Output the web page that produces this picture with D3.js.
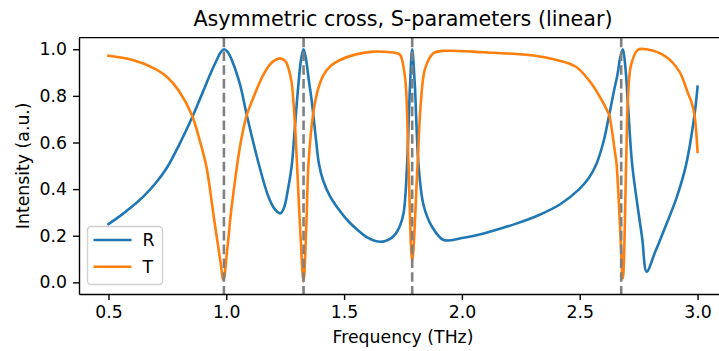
<!DOCTYPE html>
<html>
<head>
<meta charset='utf-8' />
<title>Asymmetric cross</title>
<style>
  body{ margin:0; background:#fff; }
  svg{ display:block; }
  text{ font-family: 'DejaVu Sans', sans-serif; fill:#000; }
</style>
</head>
<body>
<script src="https://cdn.jsdelivr.net/npm/d3@7/dist/d3.min.js"></script>
<script>

// values
let freqR = [0.50,0.55,0.60,0.65,0.70,0.75,0.80,0.854,0.90,0.935,0.96,0.975,0.99,1.005,1.025,1.058,1.087,1.137,1.179,1.205,1.229,1.245,1.262,1.278,1.29,1.306,1.318,1.328,1.338,1.35,1.363,1.38,1.393,1.41,1.44,1.483,1.52,1.554,1.60,1.653,1.70,1.72,1.738,1.753,1.767,1.78,1.789,1.80,1.816,1.837,1.873,1.922,2.0,2.092,2.234,2.33,2.417,2.498,2.54,2.569,2.60,2.625,2.645,2.660,2.672,2.683,2.694,2.704,2.722,2.745,2.765,2.784,2.82,2.866,2.91,2.951,2.987,3.0]
let valR  = [0.25,0.285,0.325,0.37,0.425,0.495,0.59,0.705,0.815,0.90,0.955,0.985,1.0,0.99,0.95,0.85,0.718,0.511,0.367,0.315,0.296,0.32,0.40,0.503,0.65,0.847,0.96,1.0,0.96,0.87,0.775,0.62,0.51,0.44,0.37,0.305,0.26,0.228,0.192,0.174,0.19,0.21,0.245,0.30,0.50,0.85,1.0,0.85,0.503,0.332,0.239,0.182,0.19,0.21,0.253,0.29,0.335,0.40,0.45,0.503,0.60,0.718,0.82,0.89,0.965,1.0,0.92,0.775,0.511,0.33,0.19,0.046,0.13,0.245,0.36,0.503,0.718,0.839]

let freqT = [0.50,0.60,0.70,0.75,0.80,0.854,0.889,0.915,0.95,0.975,0.988,1.005,1.02,1.035,1.05,1.065,1.087,1.11,1.13,1.16,1.186,1.21,1.229,1.25,1.264,1.277,1.285,1.293,1.300,1.315,1.328,1.34,1.349,1.370,1.39,1.413,1.445,1.483,1.55,1.625,1.70,1.724,1.738,1.759,1.773,1.789,1.812,1.826,1.844,1.879,1.922,2.092,2.304,2.403,2.484,2.554,2.597,2.615,2.625,2.637,2.648,2.656,2.67,2.683,2.697,2.704,2.718,2.746,2.782,2.866,2.923,2.957,2.975,2.987,3.0]
let valT  = [0.972,0.955,0.915,0.88,0.82,0.718,0.603,0.50,0.26,0.09,0.01,0.15,0.30,0.42,0.53,0.62,0.718,0.78,0.83,0.895,0.935,0.955,0.961,0.95,0.918,0.86,0.775,0.65,0.511,0.2,0.003,0.25,0.511,0.732,0.83,0.89,0.93,0.954,0.978,0.99,0.987,0.983,0.976,0.876,0.511,0.09,0.511,0.775,0.918,0.983,0.993,0.987,0.973,0.954,0.925,0.847,0.775,0.74,0.718,0.65,0.57,0.511,0.26,0.017,0.511,0.775,0.933,0.997,1.0,0.968,0.904,0.818,0.77,0.718,0.56]

let resonances = [0.99, 1.328, 1.789, 2.676]
let xTicks = [0.5, 1.0, 1.5, 2.0, 2.5, 3.0]
let yTicks = [0.0, 0.2, 0.4, 0.6, 0.8, 1.0]
let seriesNames = ['R', 'T']
let seriesColors = ['#1f77b4', '#ff7f0e']

let width = 719, height = 351,
  axLeft = 79, axRight = 727, axTop = 37.6, axBottom = 294

let svg = d3.select('body').append('svg').attr('width', width).attr('height', height)

let x = d3.scaleLinear().domain([0.375, 3.125]).range([axLeft, axRight]),
  y = d3.scaleLinear().domain([-0.05, 1.05]).range([axBottom, axTop])

let line = d3.line()
  .x(d => x(d[0]))
  .y(d => y(d[1]))
  .curve(d3.curveCatmullRom.alpha(0.5))

let series = [
  d3.zip(freqR, valR),
  d3.zip(freqT, valT)
]

let plot = svg.append('g')
series.forEach((s, i) => {
  plot.append('path')
    .datum(s)
    .attr('d', line)
    .style('fill', 'none')
    .style('stroke', seriesColors[i])
    .style('stroke-width', 2.6)
    .style('stroke-linejoin', 'round')
    .style('stroke-linecap', 'square')
})

// dashed resonance markers
plot.selectAll('line.res').data(resonances).enter().append('line')
  .attr('class', 'res')
  .attr('x1', d => x(d)).attr('x2', d => x(d))
  .attr('y1', axTop).attr('y2', axBottom)
  .style('stroke', '#808080')
  .style('stroke-width', 2.6)
  .style('stroke-dasharray', '9.6,4.2')

// axes
let xAxis = svg.append('g')
  .attr('transform', 'translate(0,' + axBottom + ')')
  .call(d3.axisBottom(x).tickValues(xTicks).tickFormat(d3.format('.1f')).tickSize(6).tickPadding(6).tickSizeOuter(0))

let yAxis = svg.append('g')
  .attr('transform', 'translate(' + axLeft + ',0)')
  .call(d3.axisLeft(y).tickValues(yTicks).tickFormat(d3.format('.1f')).tickSize(6).tickPadding(6).tickSizeOuter(0))

svg.selectAll('.domain').style('stroke', '#000').style('stroke-width', 1.4)
svg.selectAll('.tick line').style('stroke', '#000').style('stroke-width', 1.4)
svg.selectAll('.tick text').style('font-size', '17.3px').style('fill', '#000').style('font-family', "'DejaVu Sans', sans-serif")

// top spine
svg.append('line')
  .attr('x1', axLeft).attr('x2', axRight)
  .attr('y1', axTop).attr('y2', axTop)
  .style('stroke', '#000').style('stroke-width', 1.4)

// title and labels
svg.append('text')
  .attr('x', (axLeft + axRight) / 2).attr('y', 26)
  .attr('text-anchor', 'middle')
  .style('font-size', '20.7px')
  .text('Asymmetric cross, S-parameters (linear)')

svg.append('text')
  .attr('x', (axLeft + axRight) / 2).attr('y', 343)
  .attr('text-anchor', 'middle')
  .style('font-size', '17.3px')
  .text('Frequency (THz)')

svg.append('text')
  .attr('transform', 'translate(29,' + ((axTop + axBottom) / 2) + ') rotate(-90)')
  .attr('text-anchor', 'middle')
  .style('font-size', '17.3px')
  .text('Intensity (a.u.)')

// legend
let legend = svg.append('g').attr('transform', 'translate(87.5,226.5)')
legend.append('rect')
  .attr('width', 75).attr('height', 58)
  .attr('rx', 3.5).attr('ry', 3.5)
  .style('fill', 'rgba(255,255,255,0.8)')
  .style('stroke', '#d0d0d0')
  .style('stroke-width', 1.4)

seriesNames.forEach((name, i) => {
  let ly = 13.5 + i * 26.7
  legend.append('line')
    .attr('x1', 6).attr('x2', 44)
    .attr('y1', ly).attr('y2', ly)
    .style('stroke', seriesColors[i])
    .style('stroke-width', 2.6)
  legend.append('text')
    .attr('x', 55).attr('y', ly)
    .attr('dy', '0.36em')
    .style('font-size', '17.3px')
    .text(name)
})

</script>
</body>
</html>
